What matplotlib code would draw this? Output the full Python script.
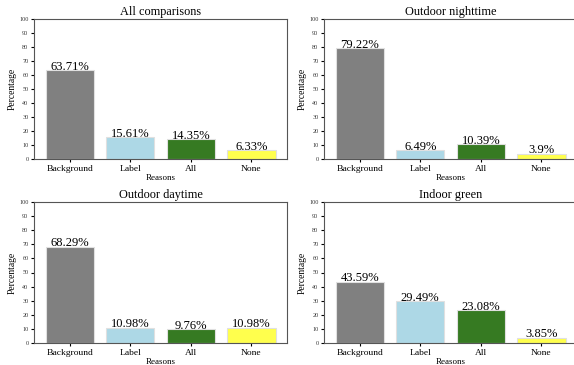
import matplotlib.pyplot as plt

# datos
reasons = ["Background", "Label", "All", "None"]
titles = ["All comparisons", "Outdoor nighttime", "Outdoor daytime", "Indoor green"]
all_comp = [63.71, 15.61, 14.35, 6.33]
night = [79.22, 6.49, 10.39, 3.9]
day = [68.29, 10.98, 9.76, 10.98]
indoor = [43.59, 29.49, 23.08, 3.85]
colors = ["#808080", "#add8e6", "#367a22", "#ffff4d"]

plt.rcParams['font.family'] = ['Liberation Serif', 'DejaVu Serif']

fig = plt.figure(figsize=(5.74, 3.65), dpi=100)
W, H = 574, 365
# posiciones de los ejes en pixeles (izq, arriba, der, abajo)
boxes = [(34, 19, 287, 159), (324, 19, 577, 159),
         (34, 202, 287, 343), (324, 202, 577, 343)]
series = [all_comp, night, day, indoor]

for (l, t, r, b), title, vals in zip(boxes, titles, series):
    ax = fig.add_axes([l / W, 1 - b / H, (r - l) / W, (b - t) / H])
    bars = ax.bar(reasons, vals, color=colors, edgecolor="#e0e0e0", linewidth=0.8)
    for bar, v in zip(bars, vals):
        ax.annotate(f"{v}%", (bar.get_x() + bar.get_width() / 2, v),
                    xytext=(0, -2), textcoords="offset points",
                    ha="center", va="bottom", fontsize=9)
    ax.set_ylim(0, 100)
    ax.set_yticks(range(0, 101, 10))
    ax.tick_params(axis="y", labelsize=4.4, length=2.5, pad=1.5, labelcolor="#333333")
    ax.tick_params(axis="x", labelsize=6.8, length=2.5, pad=1.5)
    ax.set_title(title, fontsize=8.8, pad=3)
    ax.set_xlabel("Reasons", fontsize=6.5, labelpad=1)
    ax.set_ylabel("Percentage", fontsize=6.9, labelpad=2)
    for s in ax.spines.values():
        s.set_color("#555555")

plt.savefig("out.png", dpi=100)
